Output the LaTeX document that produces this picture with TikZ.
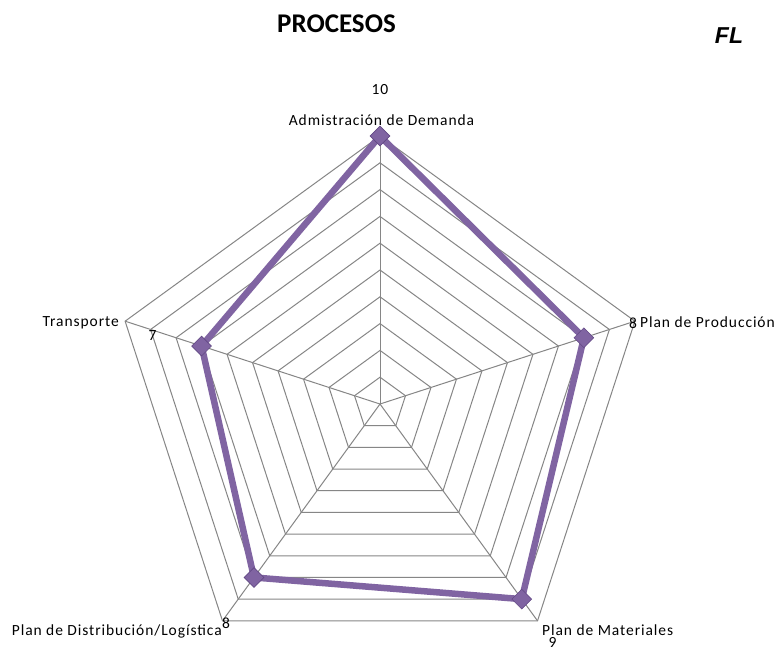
\documentclass[tikz,border=0pt]{standalone}
\usepackage{fontspec}
\setmainfont{Carlito}
\newfontfamily\lblfont[LetterSpace=6]{Carlito}
\newfontfamily\arialfont{Liberation Sans}
\usetikzlibrary{shapes.geometric}
\definecolor{gridgray}{RGB}{134,134,134}
\definecolor{serie}{RGB}{128,100,162}
\definecolor{seriedark}{RGB}{98,72,132}
\begin{document}
\begin{tikzpicture}[x=1pt,y=1pt,
 lbl/.style={font=\lblfont\fontsize{15.5}{18}\selectfont, inner sep=0pt},
 gridline/.style={draw=gridgray, line width=1pt},
 mk/.style={diamond, fill=serie, draw=seriedark, line width=0.6pt, minimum size=20pt, inner sep=0pt},
 serieline/.style={draw=serie, line width=6.5pt, line join=round}]
\useasboundingbox (0,0) rectangle (778,-649);
\fill[white] (0,0) rectangle (778,-649);
\begin{scope}[shift={(380,-404)}]
 \foreach \k in {1,...,10} {
   \draw[gridline] (90:{26.8*\k}) -- (18:{26.8*\k}) -- (-54:{26.8*\k}) -- (-126:{26.8*\k}) -- (162:{26.8*\k}) -- cycle;
 }
 \coordinate (ctr) at (0,0);
 \coordinate (v1) at (90:268);
 \coordinate (v2) at (18:268);
 \coordinate (v3) at (-54:268);
 \coordinate (v4) at (-126:268);
 \coordinate (v5) at (162:268);
 \coordinate (c1) at (90:268);
 \coordinate (c2) at (18:214.4);
 \coordinate (c3) at (-54:241.2);
 \coordinate (c4) at (-126:214.4);
 \coordinate (c5) at (162:187.6);
\end{scope}
\foreach \v in {v1,v2,v3,v4,v5} \draw[gridline] (ctr) -- (\v);
\draw[serieline] (c1) -- (c2) -- (c3) -- (c4) -- (c5) -- cycle;
\node[mk] (p1) at (c1) {};
\node[mk] (p2) at (c2) {};
\node[mk] (p3) at (c3) {};
\node[mk] (p4) at (c4) {};
\node[mk] (p5) at (c5) {};
% labels
\node[lbl, anchor=base] (t0) at (380,-94) {10};
\node[lbl, anchor=base] (l1) at (381.5,-125) {Admistración de Demanda};
\node[lbl, anchor=base west] (l2) at (640,-327) {Plan de Producción};
\node[lbl, anchor=base] (n2) at (633,-328) {8};
\node[lbl, anchor=base east] (l5) at (119,-326) {Transporte};
\node[lbl, anchor=base] (n5) at (152.5,-340) {7};
\node[lbl, anchor=base east] (l4) at (222,-635) {Plan de Distribución/Logística};
\node[lbl, anchor=base] (n4) at (226,-628) {8};
\node[lbl, anchor=base west] (l3) at (542,-635) {Plan de Materiales};
\node[lbl, anchor=base] (n3) at (552.5,-647) {9};
\node[font=\fontsize{27}{30}\selectfont\bfseries, inner sep=0pt, anchor=base] (title) at (336.5,-32) {PROCESOS};
\node[font=\arialfont\fontsize{23}{26}\selectfont\bfseries\itshape, inner sep=0pt, anchor=base] (fl) at (729,-43) {FL};
\end{tikzpicture}
\end{document}
